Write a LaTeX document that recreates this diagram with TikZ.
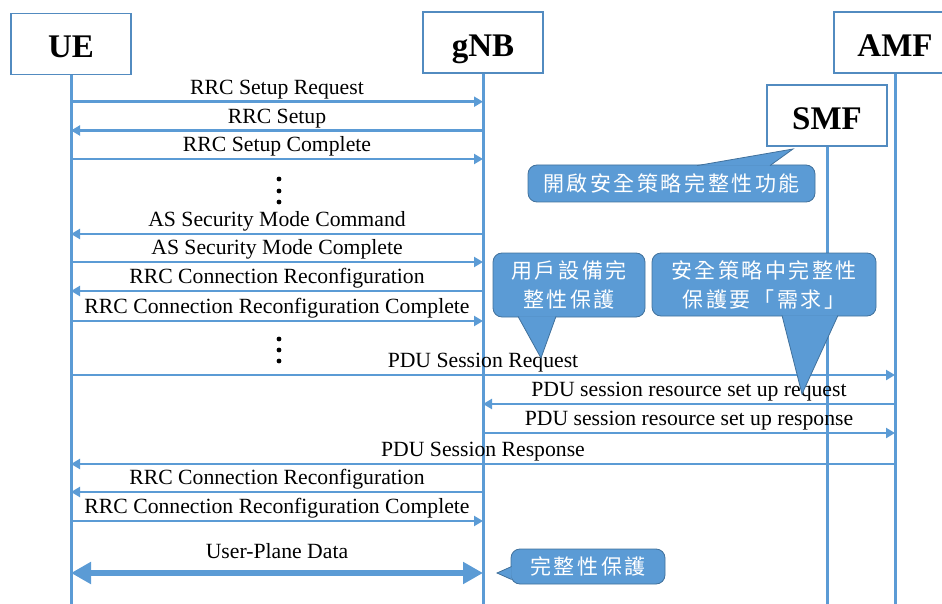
\documentclass[tikz,border=0pt]{standalone}
\usepackage{fontspec}
\setmainfont{Liberation Serif}
\newfontfamily\cjk[LetterSpace=12]{Noto Sans CJK TC}
\usetikzlibrary{arrows.meta}
\definecolor{lineblue}{HTML}{5B9BD5}
\definecolor{edgeblue}{HTML}{41719C}

\begin{document}
\begin{tikzpicture}[
    x = 1pt, y = -1pt,
    > = {Triangle[length=9pt, width=10pt]},
    entity/.style={draw=lineblue!90!black, line width=1.3pt, fill=white,
        minimum width=120pt, minimum height=61pt, inner sep=0pt,
        text height=30pt, text depth=2pt,
        font=\fontsize{33}{36}\selectfont\bfseries},
    life/.style={lineblue, line width=3pt},
    msg/.style={lineblue, line width=2.8pt, ->},
    lbl/.style={above, inner sep=1pt, text height=15pt, text depth=5pt,
        text=black, font=\fontsize{21.7}{24}\selectfont},
    note/.style={fill=lineblue, draw=edgeblue, line width=0.8pt,
        rounded corners=9pt, text=white, align=center,
        font=\fontsize{21}{29}\selectfont\cjk},
    dot/.style={circle, fill=black, inner sep=0pt, minimum size=4.8pt}
]
    \useasboundingbox (0,0) rectangle (942,604);
    \coordinate (bot) at (0,604);

    % entities
    \node[entity] (ue) at (71,44) {UE};
    \node[entity] (gnb) at (483,42.5) {gNB};
    \node[entity, minimum width=122pt] (amf) at (895,42.5) {AMF};
    \node[entity] (smf) at (827,115.5) {SMF};

    \foreach \e in {ue,gnb,smf,amf}
        \draw[life] (\e.south) -- (\e.south |- bot);

    % messages
    \foreach \y/\a/\b/\t in {
        101.7/ue/gnb/RRC Setup Request,
        130.5/gnb/ue/RRC Setup,
        159/ue/gnb/RRC Setup Complete,
        234/gnb/ue/AS Security Mode Command,
        262/ue/gnb/AS Security Mode Complete,
        291/gnb/ue/RRC Connection Reconfiguration,
        321/ue/gnb/RRC Connection Reconfiguration Complete,
        375/ue/amf/PDU Session Request,
        404/amf/gnb/PDU session resource set up request,
        433/gnb/amf/PDU session resource set up response,
        464/amf/ue/PDU Session Response,
        492/gnb/ue/RRC Connection Reconfiguration,
        521/ue/gnb/RRC Connection Reconfiguration Complete}
        \draw[msg] (\a |- 0,\y) -- node[lbl] {\t} (\b |- 0,\y);

    \draw[lineblue, line width=5.5pt,
        {Triangle[length=20pt, width=21pt]}-{Triangle[length=20pt, width=21pt]}]
        (ue |- 0,573) -- node[lbl, yshift=6pt] {User-Plane Data} (gnb |- 0,573);

    \foreach \y in {179,191,202,339,350,361}
        \node[dot] (dot\y) at (279,\y) {};

    % notes
    \node[note, minimum width=287pt, minimum height=37pt] (n1) at (671.5,183.5)
        {開啟安全策略完整性功能};
    \coordinate (t1) at (793,149);
    \fill[lineblue] ([xshift=25.5pt,yshift=-1pt]n1.north) -- (t1)
        -- ([xshift=98.5pt,yshift=-1pt]n1.north) -- cycle;
    \draw[edgeblue, line width=0.8pt] ([xshift=25.5pt,yshift=-1pt]n1.north) -- (t1)
        -- ([xshift=98.5pt,yshift=-1pt]n1.north);

    \node[note, minimum width=152pt, minimum height=64pt] (n2) at (569,285)
        {用戶設備完\\整性保護};
    \coordinate (t2) at (541,358);
    \fill[lineblue] ([xshift=-51pt,yshift=1pt]n2.south) -- (t2)
        -- ([xshift=-13pt,yshift=1pt]n2.south) -- cycle;
    \draw[edgeblue, line width=0.8pt] ([xshift=-51pt,yshift=1pt]n2.south) -- (t2)
        -- ([xshift=-13pt,yshift=1pt]n2.south);

    \node[note, minimum width=224pt, minimum height=63pt] (n3) at (764,284.5)
        {安全策略中完整性\\保護要「需求」};
    \coordinate (t3) at (802,394);
    \fill[lineblue] ([xshift=18pt,yshift=1pt]n3.south) -- (t3)
        -- ([xshift=74pt,yshift=1pt]n3.south) -- cycle;
    \draw[edgeblue, line width=0.8pt] ([xshift=18pt,yshift=1pt]n3.south) -- (t3)
        -- ([xshift=74pt,yshift=1pt]n3.south);

    \node[note, minimum width=154pt, minimum height=35pt] (n4) at (588,566.5)
        {完整性保護};
    \coordinate (t4) at (497,573);
    \fill[lineblue] ([xshift=1pt,yshift=0pt]n4.west) -- (t4)
        -- ([xshift=1pt,yshift=-13pt]n4.west) -- cycle;
    \draw[edgeblue, line width=0.8pt] ([xshift=1pt,yshift=0pt]n4.west) -- (t4)
        -- ([xshift=1pt,yshift=-13pt]n4.west);
\end{tikzpicture}
\end{document}
